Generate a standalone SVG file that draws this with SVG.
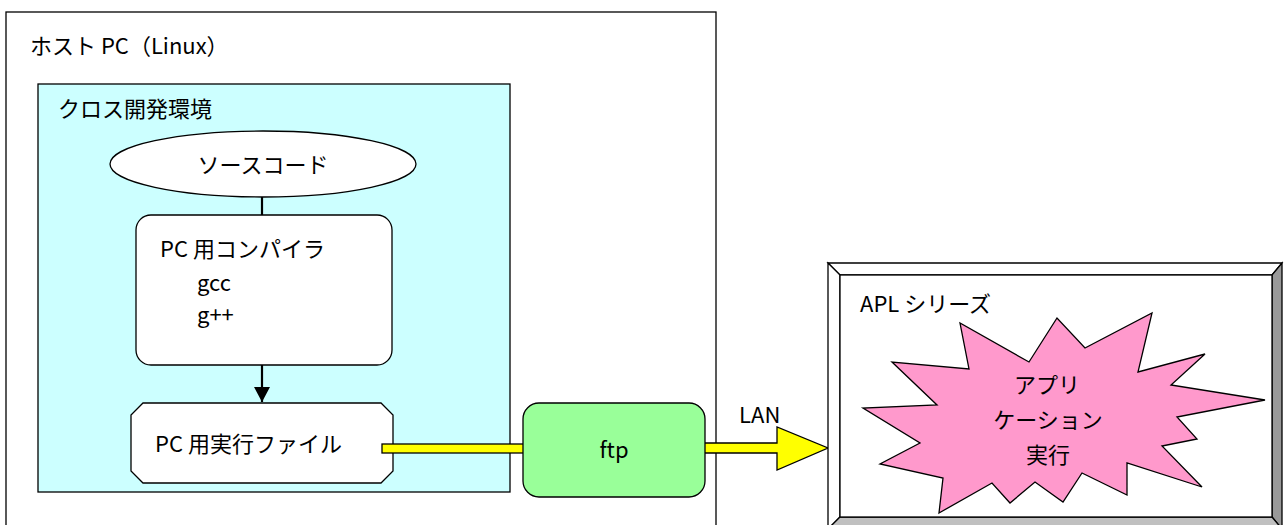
<svg xmlns="http://www.w3.org/2000/svg" width="1287" height="525" viewBox="0 0 1287 525">
<style>
text{font-family:"Noto Sans CJK JP","Noto Sans",sans-serif;font-size:22px;fill:#000}
.s{stroke:#000;stroke-width:1.3}
.c{stroke:#000;stroke-width:2.2}
.mid{text-anchor:middle;dominant-baseline:central}
.l{dominant-baseline:central}
</style>
<defs>
<marker id="ah" markerWidth="16" markerHeight="16" refX="15" refY="8" orient="auto" markerUnits="userSpaceOnUse">
<path d="M0,0 L15,8 L0,16 Z" fill="#000"/>
</marker>
</defs>
<rect width="1287" height="525" fill="#fff"/>
<g id="host">
<rect x="6" y="12" width="710" height="520" fill="#fff" class="s"/>
<text x="30" y="44" class="l">ホスト PC（Linux）</text>
</g>
<g id="cross-env">
<rect x="38" y="84" width="472" height="408" fill="#CCFFFF" class="s"/>
<text x="58" y="107" class="l">クロス開発環境</text>
</g>
<g id="source">
<ellipse cx="263" cy="164" rx="153" ry="33" fill="#fff" class="s"/>
<text x="263" y="163" class="mid">ソースコード</text>
</g>
<g id="compiler">
<rect x="136" y="215" width="256" height="150" rx="15" fill="#fff" class="s"/>
<text x="160" y="247" class="l">PC 用コンパイラ</text>
<text x="197" y="281" class="l">gcc</text>
<text x="197" y="313" class="l">g++</text>
</g>
<g id="exec">
<path d="M143,403 H381 L393,415 V471 L381,483 H143 L131,471 V415 Z" fill="#fff" class="s"/>
<text x="155" y="442" class="l">PC 用実行ファイル</text>
</g>
<g id="connectors">
<line x1="262" y1="197" x2="262" y2="215" class="c"/>
<line x1="262" y1="365" x2="262" y2="402" class="c" marker-end="url(#ah)"/>
<rect x="382" y="444" width="142" height="9" fill="#FFFF00" class="s"/>
<path d="M703,443 H777 V427 L828,448 L777,470 V453 H703 Z" fill="#FFFF00" class="s"/>
<text x="739" y="423">LAN</text>
</g>
<g id="ftp">
<rect x="523" y="403" width="182" height="94" rx="16" fill="#99FF99" class="s"/>
<text x="614" y="448" class="mid">ftp</text>
</g>
<g id="apl">
<polygon points="828,263 1282,263 1272,275 840,275" fill="#fff" class="s"/>
<polygon points="828,263 840,275 840,517 828,529" fill="#fff" class="s"/>
<polygon points="1282,263 1282,529 1272,517 1272,275" fill="#999999" class="s"/>
<polygon points="828,529 840,517 1272,517 1282,529" fill="#C0C0C0" class="s"/>
<rect x="840" y="275" width="432" height="242" fill="#fff" class="s"/>
<text x="860" y="302" class="l">APL シリーズ</text>
</g>
<g id="app-run">
<polygon points="939,513 992,483 1010,503 1035,482 1063,502 1082,473 1127,495 1127,463 1202,487 1162,446 1197,439 1177,417 1265,400 1171,385 1205,354 1138,372 1152,313 1085,348 1057,318 1029,362 960,323 969,369 892,362 937,405 863,408 920,443 880,464 943,478" fill="#FF99CC" class="s"/>
<text x="1047" y="383" class="mid">アプリ</text>
<text x="1048" y="418" class="mid">ケーション</text>
<text x="1048" y="453" class="mid">実行</text>
</g>
</svg>
